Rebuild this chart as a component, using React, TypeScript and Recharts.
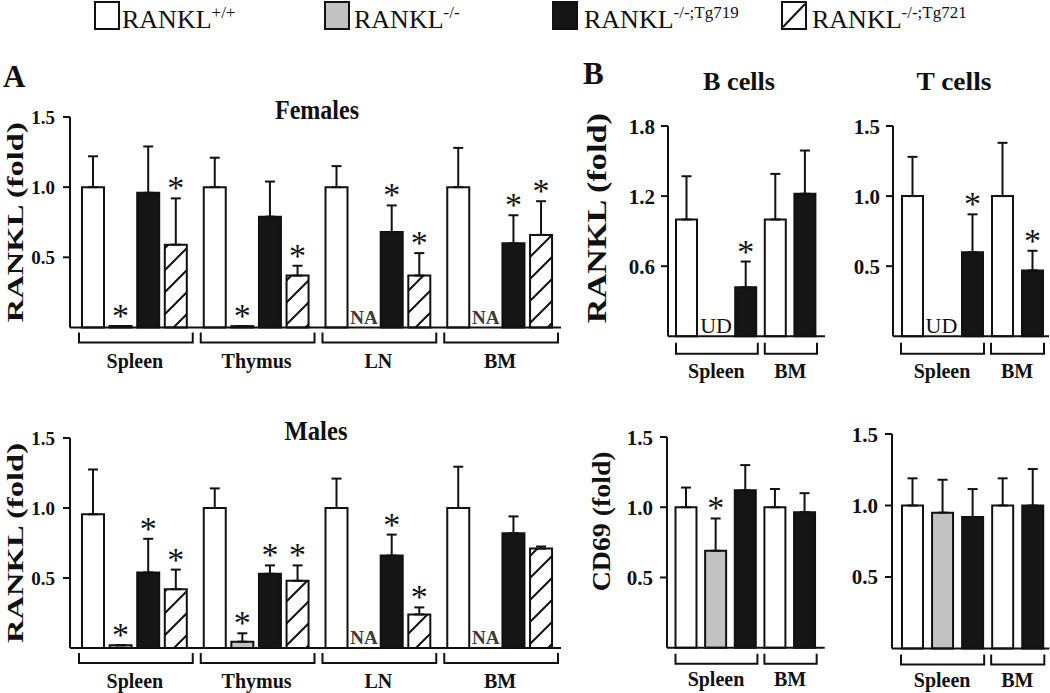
import React from "react";
import { BarChart, Bar, XAxis, YAxis, ErrorBar, LabelList, Cell } from "recharts";

const SERIF = '"Liberation Serif", "Times New Roman", Times, serif';
const INK = "#111111";

// ---- Panel A: RANKL (fold) per tissue ----
const tissuesA = ["Spleen", "Thymus", "LN", "BM"];

const femWT = [1.0, 1.0, 1.0, 1.0];
const femWTErr = [0.22, 0.21, 0.15, 0.28];
const femKO = [0.01, 0.01, 0, 0];
const femKOErr = [0, 0, 0, 0];
const femKOMarks = ["*", "*", "NA", "NA"];
const femTg719 = [0.96, 0.79, 0.68, 0.6];
const femTg719Err = [0.33, 0.25, 0.19, 0.2];
const femTg719Marks = ["", "", "*", "*"];
const femTg721 = [0.59, 0.37, 0.37, 0.66];
const femTg721Err = [0.33, 0.07, 0.16, 0.24];
const femTg721Marks = ["*", "*", "*", "*"];

const maleWT = [0.955, 1.0, 1.0, 1.0];
const maleWTErr = [0.32, 0.14, 0.21, 0.295];
const maleKO = [0.02, 0.045, 0, 0];
const maleKOErr = [0, 0.06, 0, 0];
const maleKOMarks = ["*", "*", "NA", "NA"];
const maleTg719 = [0.54, 0.53, 0.66, 0.82];
const maleTg719Err = [0.24, 0.06, 0.15, 0.12];
const maleTg719Marks = ["*", "*", "*", ""];
const maleTg721 = [0.42, 0.48, 0.24, 0.71];
const maleTg721Err = [0.14, 0.11, 0.05, 0.015];
const maleTg721Marks = ["*", "*", "*", ""];

const noMarks = ["", "", "", ""];

// ---- Panel B: sorted B / T cells ----
const tissueB = ["Spleen", "Spleen", "Spleen", "BM", "BM"];
const genotypeB = ["wt", "ko", "tg719", "wt", "tg719"];

const bRankl = [1.0, 0, 0.42, 1.0, 1.22];
const bRanklErr = [0.37, 0, 0.22, 0.39, 0.37];
const bRanklMarks = ["", "UD", "*", "", ""];

const tRankl = [1.0, 0, 0.6, 1.0, 0.47];
const tRanklErr = [0.28, 0, 0.27, 0.38, 0.14];
const tRanklMarks = ["", "UD", "*", "", "*"];

const bCd69 = [1.0, 0.69, 1.12, 1.0, 0.965];
const bCd69Err = [0.14, 0.23, 0.18, 0.13, 0.135];
const bCd69Marks = ["", "*", "", "", ""];

const tCd69 = [1.0, 0.95, 0.92, 1.0, 1.0];
const tCd69Err = [0.19, 0.23, 0.195, 0.19, 0.255];
const tCd69Marks = ["", "", "", "", ""];

const ticksA = [0.5, 1.0, 1.5];
const ticksB18 = [0.6, 1.2, 1.8];

const legendKeys = ["wt", "ko", "tg719", "tg721"];
const legendSup = ["+/+", "-/-", "-/-;Tg719", "-/-;Tg721"];

const FILL: Record<string, string> = {
  wt: "#ffffff",
  ko: "#c2c2c2",
  tg719: "#151515",
  tg721: "url(#hatch)",
};

// ---- layout ----
type Frame = { axis: number; right: number; padL: number; padR: number; top: number; bottom: number; yW: number };
type Bracket = { drop: number; depth: number; labelDy: number; insetL: number; insetR: number };
type YLab = { text: string; x: number; dy: number; len: number; fs: number };

const M_TOP = 12;
const M_RIGHT = 3;
const X_AXIS_H = 48;

const F_FEM: Frame = { axis: 70, right: 561, padL: 4, padR: 0, top: 116.5, bottom: 327, yW: 70 };
const F_MALE: Frame = { ...F_FEM, top: 437.5, bottom: 647.5 };
const F_BR: Frame = { axis: 668, right: 825, padL: 4, padR: 5, top: 125.7, bottom: 336, yW: 90 };
const F_TR: Frame = { axis: 893, right: 1049, padL: 4, padR: 2, top: 125.7, bottom: 336, yW: 60 };
const F_BC: Frame = { axis: 667.3, right: 825, padL: 4.5, padR: 5, top: 437.3, bottom: 648, yW: 90 };
const F_TC: Frame = { axis: 891.7, right: 1049, padL: 5, padR: 2, top: 433.5, bottom: 648, yW: 60 };

const BR_A: Bracket = { drop: 5, depth: 10, labelDy: 40, insetL: 5, insetR: 3 };
const BR_TOP: Bracket = { drop: 6.5, depth: 11, labelDy: 42, insetL: 4, insetR: 3 };
const BR_BOT: Bracket = { drop: 6, depth: 10, labelDy: 38.5, insetL: 4, insetR: 3 };

const BAR_A = 22;
const GAP_A = 5.6;
const BAR_B = 21;

const notesOf = (marks: string[]) => marks.map((m) => (m === "NA" || m === "UD" ? m : ""));

// asterisk above the error-bar cap; row index comes through the "idx" field
function starContent(values: number[], errs: number[], marks: string[]) {
  return (props: any) => {
    const raw = props.value;
    const i: number = raw === undefined || raw === null ? props.index : Number(raw);
    if (marks[i] !== "*") return null;
    const vb = props.viewBox ?? props;
    const x = Number(vb.x);
    const y = Number(vb.y);
    const w = Number(vb.width);
    const h = Number(vb.height);
    const base = y + h;
    const k = values[i] > 0 ? h / values[i] : 0;
    const cap = base - (values[i] + errs[i]) * k;
    return (
      <text x={x + w / 2} y={cap + 1} textAnchor="middle" fontFamily={SERIF} fontSize={34} fill={INK}>
        *
      </text>
    );
  };
}

function bracketTick(groups: string[], pitch: number, b: Bracket, fs: number, notes: string[], noteDx: number) {
  return (p: any) => {
    const i: number = p.index ?? p.payload?.index ?? 0;
    const x = Number(p.x);
    const y = Number(p.y);
    const note = notes[i];
    const noteEl = note ? (
      <text
        x={x + noteDx}
        y={y - (note === "NA" ? 4 : 3)}
        textAnchor="middle"
        fontFamily={SERIF}
        fontSize={note === "NA" ? 19 : 22}
        fontWeight={note === "NA" ? 700 : 400}
        fill={note === "NA" ? "#3a3a3a" : INK}
      >
        {note}
      </text>
    ) : null;
    if (i > 0 && groups[i - 1] === groups[i]) return <g>{noteEl}</g>;
    let last = i;
    while (last + 1 < groups.length && groups[last + 1] === groups[i]) last++;
    const span = last - i;
    const x0 = x - pitch / 2 + b.insetL;
    const x1 = x + span * pitch + pitch / 2 - b.insetR;
    const y0 = y + b.drop;
    const y1 = y + b.drop + b.depth;
    return (
      <g>
        {noteEl}
        <path d={`M${x0},${y0}V${y1}H${x1}V${y0}`} fill="none" stroke={INK} strokeWidth={2} />
        <text
          x={x + (span * pitch) / 2}
          y={y + b.labelDy}
          textAnchor="middle"
          fontFamily={SERIF}
          fontSize={fs}
          fontWeight={700}
          fill={INK}
        >
          {groups[i]}
        </text>
      </g>
    );
  };
}

function Chart(props: {
  frame: Frame;
  data: any[];
  catKey: string;
  groups: string[];
  yMax: number;
  yTicks: number[];
  tickFs: number;
  tickMargin: number;
  catFs: number;
  bracket: Bracket;
  notes: string[];
  noteSlot?: number;
  yLabel?: YLab;
  barSize: number;
  barGap?: number;
  seriesCount?: number;
  children: React.ReactNode;
}) {
  const f = props.frame;
  const left = f.axis - f.yW;
  const top = f.top - M_TOP;
  const width = f.right + M_RIGHT - left;
  const height = f.bottom + X_AXIS_H - top;
  const pitch = (f.right - f.axis - f.padL - f.padR) / props.groups.length;
  const gap = props.barGap ?? 4;
  const n = props.seriesCount ?? 1;
  // centre of the given series slot relative to the band centre (for NA / UD notes)
  const groupW = n * props.barSize + (n - 1) * gap;
  const startOff = Math.floor((pitch - groupW) / 2);
  const slot = props.noteSlot ?? 0;
  const noteDx = startOff + slot * (props.barSize + gap) + props.barSize / 2 - pitch / 2;

  const yl = props.yLabel;
  const yLabel = yl
    ? () => {
        const cx = yl.x - left;
        const cy = (f.top + f.bottom) / 2 + yl.dy - top;
        return (
          <text
            x={cx}
            y={cy}
            transform={`rotate(-90 ${cx} ${cy})`}
            textAnchor="middle"
            fontFamily={SERIF}
            fontSize={yl.fs}
            fontWeight={700}
            fill={INK}
            textLength={yl.len}
            lengthAdjust="spacingAndGlyphs"
          >
            {yl.text}
          </text>
        );
      }
    : undefined;

  return (
    <div style={{ position: "absolute", left, top }}>
      <BarChart
        width={width}
        height={height}
        data={props.data}
        margin={{ top: M_TOP, right: M_RIGHT, bottom: 0, left: 0 }}
        barSize={props.barSize}
        barGap={gap}
      >
        <XAxis
          dataKey={props.catKey}
          height={X_AXIS_H}
          padding={{ left: f.padL, right: f.padR }}
          interval={0}
          tickLine={false}
          tickSize={0}
          tickMargin={0}
          axisLine={{ stroke: INK, strokeWidth: 2 }}
          tick={bracketTick(props.groups, pitch, props.bracket, props.catFs, props.notes, noteDx)}
        />
        <YAxis
          width={f.yW}
          domain={[0, props.yMax]}
          ticks={props.yTicks}
          tickFormatter={(v: number) => v.toFixed(1)}
          axisLine={{ stroke: INK, strokeWidth: 2 }}
          tickLine={{ stroke: INK, strokeWidth: 2 }}
          tickSize={7}
          tickMargin={props.tickMargin}
          tick={{ fontSize: props.tickFs, fontWeight: 700, fontFamily: SERIF, fill: INK }}
          label={yLabel}
        />
        {props.children}
      </BarChart>
    </div>
  );
}

function rowsA(wt: number[], wtE: number[], ko: number[], koE: number[], t1: number[], t1E: number[], t2: number[], t2E: number[]) {
  return tissuesA.map((tissue, i) => ({
    tissue,
    idx: i,
    wt: wt[i],
    wtErr: [0, wtE[i]],
    ko: ko[i],
    koErr: [0, koE[i]],
    tg719: t1[i],
    tg719Err: [0, t1E[i]],
    tg721: t2[i],
    tg721Err: [0, t2E[i]],
  }));
}

function rowsB(values: number[], errs: number[]) {
  return tissueB.map((t, i) => ({ slot: `${t}-${genotypeB[i]}`, idx: i, v: values[i], err: [0, errs[i]] }));
}

type Series = { key: string; values: number[]; errs: number[]; marks: string[] };

const femSeries: Series[] = [
  { key: "wt", values: femWT, errs: femWTErr, marks: noMarks },
  { key: "ko", values: femKO, errs: femKOErr, marks: femKOMarks },
  { key: "tg719", values: femTg719, errs: femTg719Err, marks: femTg719Marks },
  { key: "tg721", values: femTg721, errs: femTg721Err, marks: femTg721Marks },
];
const maleSeries: Series[] = [
  { key: "wt", values: maleWT, errs: maleWTErr, marks: noMarks },
  { key: "ko", values: maleKO, errs: maleKOErr, marks: maleKOMarks },
  { key: "tg719", values: maleTg719, errs: maleTg719Err, marks: maleTg719Marks },
  { key: "tg721", values: maleTg721, errs: maleTg721Err, marks: maleTg721Marks },
];

const femRows = rowsA(femWT, femWTErr, femKO, femKOErr, femTg719, femTg719Err, femTg721, femTg721Err);
const maleRows = rowsA(maleWT, maleWTErr, maleKO, maleKOErr, maleTg719, maleTg719Err, maleTg721, maleTg721Err);

function panelABars(series: Series[]) {
  return series.map((s) => (
    <Bar key={s.key} dataKey={s.key} fill={FILL[s.key]} stroke={INK} strokeWidth={2} isAnimationActive={false}>
      <ErrorBar dataKey={`${s.key}Err`} width={5} stroke={INK} strokeWidth={2} direction="y" />
      <LabelList dataKey="idx" content={starContent(s.values, s.errs, s.marks)} />
    </Bar>
  ));
}

function panelBBar(values: number[], errs: number[], marks: string[]) {
  return (
    <Bar dataKey="v" stroke={INK} strokeWidth={2} isAnimationActive={false}>
      {genotypeB.map((g, i) => (
        <Cell key={i} fill={FILL[g]} />
      ))}
      <ErrorBar dataKey="err" width={5} stroke={INK} strokeWidth={2} direction="y" />
      <LabelList dataKey="idx" content={starContent(values, errs, marks)} />
    </Bar>
  );
}

const LEG_BOX_X = [95, 325, 553, 782];
const LEG_TEXT_X = [122, 354, 584, 812];

function Overlay() {
  return (
    <svg width={1050} height={693} style={{ position: "absolute", left: 0, top: 0, pointerEvents: "none" }}>
      <defs>
        <pattern id="hatch" patternUnits="userSpaceOnUse" width={22} height={22}>
          <rect width={22} height={22} fill="#ffffff" />
          <path d="M-2,24L24,-2M-2,2L2,-2M20,24L24,20" stroke={INK} strokeWidth={2} />
        </pattern>
      </defs>

      {legendKeys.map((k, i) => (
        <g key={k}>
          <rect
            x={LEG_BOX_X[i]}
            y={2}
            width={24}
            height={27}
            fill={k === "tg721" ? "#ffffff" : FILL[k]}
            stroke={INK}
            strokeWidth={2}
          />
          {k === "tg721" && (
            <line x1={LEG_BOX_X[i] + 1} y1={27} x2={LEG_BOX_X[i] + 23} y2={4} stroke={INK} strokeWidth={2} />
          )}
          <text x={LEG_TEXT_X[i]} y={27.5} fontFamily={SERIF} fontSize={26} fill={INK}>
            RANKL
            <tspan dy={-9.5} fontSize={17}>
              {legendSup[i]}
            </tspan>
          </text>
        </g>
      ))}

      <text x={3} y={87} fontFamily={SERIF} fontSize={31} fontWeight={700} fill={INK}>A</text>
      <text x={583} y={83.5} fontFamily={SERIF} fontSize={31} fontWeight={700} fill={INK}>B</text>

      <text x={317} y={118.5} textAnchor="middle" fontFamily={SERIF} fontSize={27} fontWeight={700} fill={INK}
        textLength={84} lengthAdjust="spacingAndGlyphs">Females</text>
      <text x={316} y={440} textAnchor="middle" fontFamily={SERIF} fontSize={27} fontWeight={700} fill={INK}
        textLength={63} lengthAdjust="spacingAndGlyphs">Males</text>
      <text x={739} y={89.5} textAnchor="middle" fontFamily={SERIF} fontSize={25} fontWeight={700} fill={INK}
        textLength={72} lengthAdjust="spacingAndGlyphs">B cells</text>
      <text x={954} y={89.5} textAnchor="middle" fontFamily={SERIF} fontSize={25} fontWeight={700} fill={INK}
        textLength={75} lengthAdjust="spacingAndGlyphs">T cells</text>
    </svg>
  );
}

export default function App() {
  const ylA: YLab = { text: "RANKL (fold)", x: 22.5, dy: 0, len: 200, fs: 24 };
  return (
    <div style={{ position: "absolute", left: 0, top: 0, width: 1050, height: 693, background: "#ffffff", overflow: "hidden" }}>
      <Chart frame={F_FEM} data={femRows} catKey="tissue" groups={tissuesA} yMax={1.5} yTicks={ticksA}
        tickFs={19} tickMargin={8} catFs={20} bracket={BR_A} notes={notesOf(femKOMarks)} noteSlot={1}
        seriesCount={4} yLabel={ylA} barSize={BAR_A} barGap={GAP_A}>
        {panelABars(femSeries)}
      </Chart>
      <Chart frame={F_MALE} data={maleRows} catKey="tissue" groups={tissuesA} yMax={1.5} yTicks={ticksA}
        tickFs={19} tickMargin={8} catFs={20} bracket={BR_A} notes={notesOf(maleKOMarks)} noteSlot={1}
        seriesCount={4} yLabel={ylA} barSize={BAR_A} barGap={GAP_A}>
        {panelABars(maleSeries)}
      </Chart>

      <Chart frame={F_BR} data={rowsB(bRankl, bRanklErr)} catKey="slot" groups={tissueB} yMax={1.8} yTicks={ticksB18}
        tickFs={21} tickMargin={6} catFs={20} bracket={BR_TOP} notes={notesOf(bRanklMarks)}
        yLabel={{ text: "RANKL (fold)", x: 606.5, dy: -13, len: 210, fs: 27 }} barSize={BAR_B}>
        {panelBBar(bRankl, bRanklErr, bRanklMarks)}
      </Chart>
      <Chart frame={F_TR} data={rowsB(tRankl, tRanklErr)} catKey="slot" groups={tissueB} yMax={1.5} yTicks={ticksA}
        tickFs={21} tickMargin={6} catFs={20} bracket={BR_TOP} notes={notesOf(tRanklMarks)} barSize={BAR_B}>
        {panelBBar(tRankl, tRanklErr, tRanklMarks)}
      </Chart>
      <Chart frame={F_BC} data={rowsB(bCd69, bCd69Err)} catKey="slot" groups={tissueB} yMax={1.5} yTicks={ticksA}
        tickFs={21} tickMargin={7} catFs={20} bracket={BR_BOT} notes={notesOf(bCd69Marks)}
        yLabel={{ text: "CD69 (fold)", x: 610.5, dy: -21, len: 140, fs: 25 }} barSize={BAR_B}>
        {panelBBar(bCd69, bCd69Err, bCd69Marks)}
      </Chart>
      <Chart frame={F_TC} data={rowsB(tCd69, tCd69Err)} catKey="slot" groups={tissueB} yMax={1.5} yTicks={ticksA}
        tickFs={21} tickMargin={7} catFs={20} bracket={BR_BOT} notes={notesOf(tCd69Marks)} barSize={BAR_B}>
        {panelBBar(tCd69, tCd69Err, tCd69Marks)}
      </Chart>

      <Overlay />
    </div>
  );
}
